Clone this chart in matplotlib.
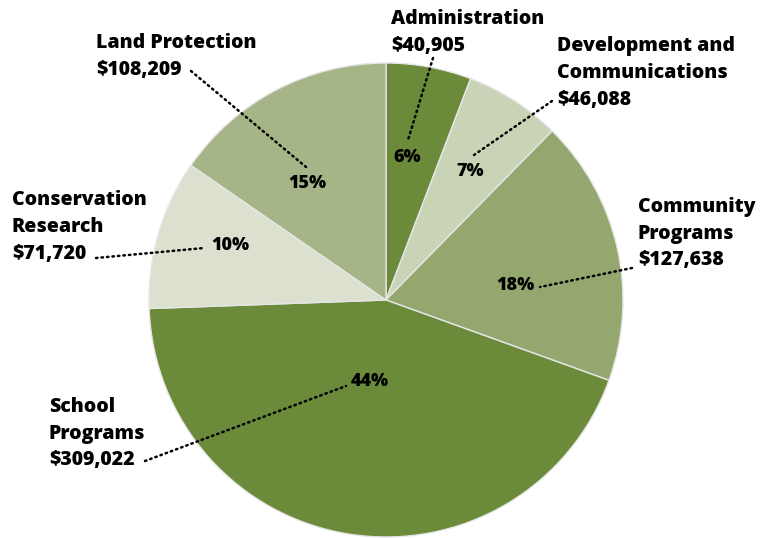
import matplotlib
matplotlib.use("Agg")
import matplotlib.pyplot as plt

# budget categories, clockwise from 12 o'clock
categories = ["Administration", "Development and\nCommunications", "Community\nPrograms",
              "School\nPrograms", "Conservation\nResearch", "Land Protection"]
amounts = [40905, 46088, 127638, 309022, 71720, 108209]
colors = ["#6b8a3a", "#c9d3b6", "#93a76e", "#6b8a3a", "#dce0cf", "#a6b587"]

# label layout in pixel coords (top-left origin)
name_pos = [(391, 9), (557, 36), (638, 197), (49, 397), (12, 190), (96, 33)]
pct_pos = [(407, 157), (470, 171), (515, 285), (370, 382), (230, 245), (307, 184)]
leaders = [((433, 58), (408, 140)), ((552, 101), (474, 155)), ((632, 268), (540, 287)),
           ((145, 461), (346, 386)), ((96, 258), (204, 248)), ((191, 71), (306, 167))]

W, H = 765, 538
plt.rcParams['font.family'] = ['Open Sans', 'DejaVu Sans']

fig = plt.figure(figsize=(W / 100, H / 100), dpi=100)
ax = fig.add_axes([0, 0, 1, 1])

ax.pie(amounts, colors=colors, startangle=90, counterclock=False,
       center=(386, H - 300), radius=237, frame=True,
       wedgeprops=dict(edgecolor='#e6e6e6', linewidth=1))
ax.set_xlim(0, W)
ax.set_ylim(0, H)
ax.set_aspect('equal')
ax.axis('off')

total = sum(amounts)
for name, amt, (nx, ny), (px, py), (p0, p1) in zip(categories, amounts, name_pos, pct_pos, leaders):
    ax.text(nx, H - ny, f"{name}\n${amt:,}", ha='left', va='top', fontsize=14,
            fontweight=800, linespacing=1.45, color='black')
    ax.text(px, H - py, f"{round(100 * amt / total)}%", ha='center', va='center',
            fontsize=13, fontweight=800, color='black')
    ax.plot([p0[0], p1[0]], [H - p0[1], H - p1[1]], color='black', lw=1.8,
            linestyle=(0, (0.6, 1.6)), dash_capstyle='round')

fig.savefig("out.png", dpi=100)
